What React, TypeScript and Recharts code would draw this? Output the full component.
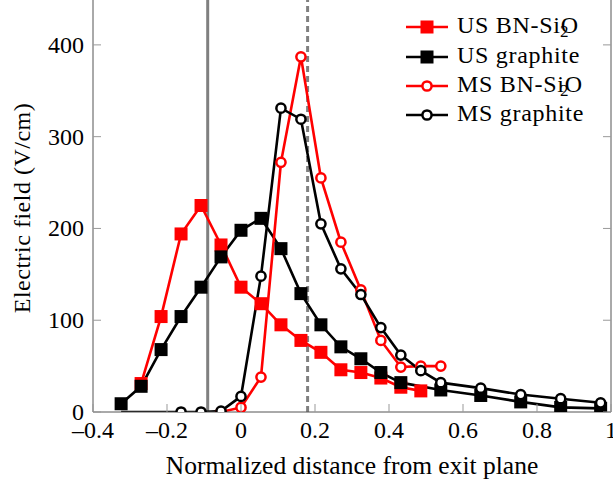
import { LineChart, Line, XAxis, YAxis, ReferenceLine, Label } from 'recharts';

const W = 613;
const H = 482;
const FONT = 'Liberation Serif';

// tick labels
const xTicks = [-0.4, -0.2, 0, 0.2, 0.4, 0.6, 0.8, 1];
const yTicks = [0, 100, 200, 300, 400];

// markers of the exit plane / channel
const solidMarkX = -0.09;
const dashedMarkX = 0.18;

// US BN-SiO2
const usBnX = [-0.27, -0.216, -0.162, -0.108, -0.054, 0, 0.054, 0.108, 0.162, 0.216, 0.27, 0.324, 0.378, 0.432, 0.486];
const usBnE = [31, 104, 194, 225, 182, 136, 118, 95, 78, 65, 46, 43, 37, 27, 23];

// US graphite
const usGrX = [-0.324, -0.27, -0.216, -0.162, -0.108, -0.054, 0, 0.054, 0.108, 0.162, 0.216, 0.27, 0.324, 0.378, 0.432, 0.54, 0.648, 0.756, 0.864, 0.972];
const usGrE = [9, 28, 68, 104, 136, 169, 198, 211, 178, 129, 95, 71, 58, 43, 32, 24, 18, 11, 5, 4];

// MS BN-SiO2
const msBnX = [-0.054, 0, 0.054, 0.108, 0.162, 0.216, 0.27, 0.324, 0.378, 0.432, 0.486, 0.54];
const msBnE = [0, 5, 38, 272, 387, 255, 185, 133, 78, 49, 50, 50];

// MS graphite (first point has no mark in the original)
const msGrX = [-0.324, -0.162, -0.108, -0.054, 0, 0.054, 0.108, 0.162, 0.216, 0.27, 0.324, 0.378, 0.432, 0.486, 0.54, 0.648, 0.756, 0.864, 0.972];
const msGrE = [0, 0, 0, 1, 17, 148, 331, 319, 205, 156, 128, 92, 62, 45, 32, 26, 19, 14.5, 10];

const toPoints = (xs: number[], ys: number[]) => xs.map((x, i) => ({ x, e: ys[i] }));

const series = [
    { name: 'US BN-SiO', sub: '2', color: '#ff0000', mark: 'square', data: toPoints(usBnX, usBnE) },
    { name: 'US graphite', sub: '', color: '#000000', mark: 'square', data: toPoints(usGrX, usGrE) },
    { name: 'MS BN-SiO', sub: '2', color: '#ff0000', mark: 'circle', data: toPoints(msBnX, msBnE) },
    { name: 'MS graphite', sub: '', color: '#000000', mark: 'circle', data: toPoints(msGrX, msGrE), skipFirst: true },
];

const legendRows = [27, 57, 86, 115];

const fmtX = (v: number) => (v === 0 ? '0' : (v < 0 ? '\u2013' : '') + String(Math.abs(v)));

const TICK = '#999';
const TICK_LEN = 8;

const BottomTick = ({ x, y, payload }: any) => (
    <g>
        <line x1={x} y1={y} x2={x} y2={y - TICK_LEN} stroke={TICK} />
        <text x={x} y={y + 26} textAnchor="middle" fontFamily={FONT} fontSize={24} fill="#000">
            {fmtX(payload.value)}
        </text>
    </g>
);

const TopTick = ({ x, y }: any) => <line x1={x} y1={y} x2={x} y2={y + TICK_LEN} stroke={TICK} />;

const LeftTick = ({ x, y, payload }: any) => (
    <g>
        <line x1={x} y1={y} x2={x + TICK_LEN} y2={y} stroke={TICK} />
        <text x={x - 9} y={y + 8} textAnchor="end" fontFamily={FONT} fontSize={24} fill="#000">
            {payload.value}
        </text>
    </g>
);

const RightTick = ({ x, y }: any) => <line x1={x} y1={y} x2={x - TICK_LEN} y2={y} stroke={TICK} />;

const makeDot = (s: any) => (p: any) => {
    const key = `${s.name}-${p.index}`;
    if (s.skipFirst && p.index === 0) return <g key={key} />;
    if (s.mark === 'square') {
        return <rect key={key} x={p.cx - 6.5} y={p.cy - 6.5} width={13} height={13} fill={s.color} />;
    }
    return <circle key={key} cx={p.cx} cy={p.cy} r={4.6} fill="#fff" stroke={s.color} strokeWidth={2.5} />;
};

const LegendBox = () => (
    <svg width={220} height={135} style={{ position: 'absolute', left: 400, top: 0 }}>
        {series.map((s, i) => {
            const cy = legendRows[i];
            return (
                <g key={s.name + i}>
                    <line x1={6} y1={cy} x2={48} y2={cy} stroke={s.color} strokeWidth={2.6} />
                    {s.mark === 'square' ? (
                        <rect x={20.5} y={cy - 6.5} width={13} height={13} fill={s.color} />
                    ) : (
                        <circle cx={27} cy={cy} r={4.6} fill="#fff" stroke={s.color} strokeWidth={2.5} />
                    )}
                    <text x={57} y={cy + 6} fontFamily={FONT} fontSize={24} letterSpacing={0.7} fill="#000">
                        {s.name}
                    </text>
                    {s.sub && (
                        <text x={57 + 103} y={cy + 10} fontFamily={FONT} fontSize={17} fill="#000">
                            {s.sub}
                        </text>
                    )}
                </g>
            );
        })}
    </svg>
);

export default function App() {
    return (
        <div style={{ position: 'absolute', left: 0, top: 0, width: W, height: H, background: '#fff' }}>
            <LineChart width={W} height={H} margin={{ top: -1, right: 0, bottom: 0, left: 0 }}>
                <XAxis
                    xAxisId="b"
                    type="number"
                    dataKey="x"
                    domain={[-0.4, 1]}
                    ticks={xTicks}
                    allowDataOverflow
                    height={70}
                    tickSize={0}
                    tickMargin={0}
                    tickLine={false}
                    axisLine={{ stroke: '#555' }}
                    tick={<BottomTick />}
                    interval={0}
                >
                    <Label
                        content={() => (
                            <text x={352} y={474} textAnchor="middle" fontFamily={FONT} fontSize={25.5} fill="#000">
                                Normalized distance from exit plane
                            </text>
                        )}
                    />
                </XAxis>
                <XAxis
                    xAxisId="t"
                    orientation="top"
                    type="number"
                    dataKey="x"
                    domain={[-0.4, 1]}
                    ticks={xTicks}
                    allowDataOverflow
                    height={0}
                    tickSize={0}
                    tickMargin={0}
                    tickLine={false}
                    axisLine={{ stroke: '#555' }}
                    tick={<TopTick />}
                    interval={0}
                />
                <YAxis
                    yAxisId="l"
                    type="number"
                    domain={[0, 450]}
                    ticks={yTicks}
                    allowDataOverflow
                    width={93}
                    tickSize={0}
                    tickMargin={0}
                    tickLine={false}
                    axisLine={{ stroke: '#555' }}
                    tick={<LeftTick />}
                    interval={0}
                >
                    <Label
                        content={() => (
                            <text
                                x={29.5}
                                y={208}
                                transform="rotate(-90 29.5 208)"
                                textAnchor="middle"
                                fontFamily={FONT}
                                fontSize={24}
                                letterSpacing={0.5}
                                fill="#000"
                            >
                                Electric field (V/cm)
                            </text>
                        )}
                    />
                </YAxis>
                <YAxis
                    yAxisId="r"
                    orientation="right"
                    type="number"
                    domain={[0, 450]}
                    ticks={yTicks}
                    allowDataOverflow
                    width={2}
                    tickSize={0}
                    tickMargin={0}
                    tickLine={false}
                    axisLine={{ stroke: '#555' }}
                    tick={<RightTick />}
                    interval={0}
                />
                <ReferenceLine xAxisId="b" yAxisId="l" x={solidMarkX} stroke="#808080" strokeWidth={3} />
                <ReferenceLine xAxisId="b" yAxisId="l" x={dashedMarkX} stroke="#808080" strokeWidth={3} strokeDasharray="6 4" />
                {series.map((s, i) => (
                    <Line
                        key={s.name + i}
                        xAxisId="b"
                        yAxisId="l"
                        data={s.data}
                        dataKey="e"
                        type="linear"
                        stroke={s.color}
                        strokeWidth={2.6}
                        dot={makeDot(s)}
                        activeDot={false}
                        isAnimationActive={false}
                    />
                ))}
            </LineChart>
            <LegendBox />
        </div>
    );
}
